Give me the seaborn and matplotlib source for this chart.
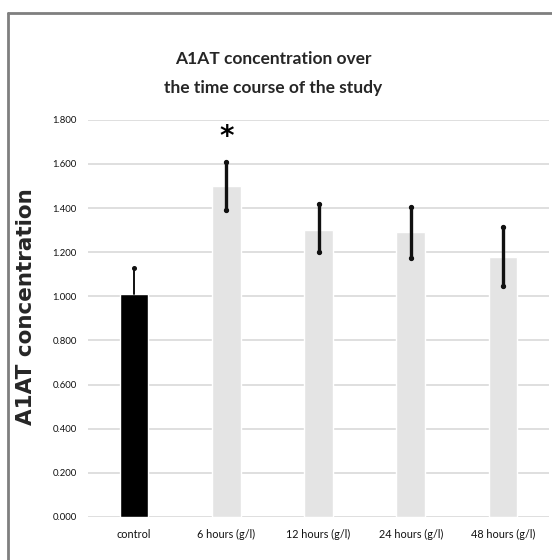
import numpy as np
import pandas as pd
import matplotlib
matplotlib.use("Agg")
import matplotlib.pyplot as plt
import seaborn as sns
from matplotlib.lines import Line2D

# values
categories = ["control", "6 hours (g/l)", "12 hours (g/l)", "24 hours (g/l)", "48 hours (g/l)"]
values = [1.01, 1.50, 1.30, 1.29, 1.18]
err_low = [1.01, 1.39, 1.20, 1.175, 1.047]
err_high = [1.13, 1.61, 1.417, 1.407, 1.316]
bar_colors = ["#000000", "#e4e4e4", "#e4e4e4", "#e4e4e4", "#e4e4e4"]
yticks = [0.0, 0.2, 0.4, 0.6, 0.8, 1.0, 1.2, 1.4, 1.6, 1.8]

df = pd.DataFrame({"group": categories, "conc": values})

sns.set_style("white")
fig = plt.figure(figsize=(5.52, 5.60), dpi=100)
ax = fig.add_axes([0.159, 0.077, 0.836, 0.709])

sns.barplot(data=df, x="group", y="conc", hue="group", palette=bar_colors,
            width=0.31, legend=False, ax=ax, saturation=1)

# error bars (drawn between low/high as in the original)
for i in range(len(categories)):
    if i == 0:
        ax.plot([i, i], [err_low[i], err_high[i]], color="#111111", lw=1.4)
        ax.plot([i], [err_high[i]], "o", color="#111111", ms=2.6)
    else:
        ax.plot([i, i], [err_low[i], err_high[i]], color="#111111", lw=2.4,
                marker="o", ms=2.8)

# significance star
ax.text(1, 1.72, "*", ha="center", va="center", fontsize=20,
        fontweight="bold", color="black")

ax.set_ylim(0, 1.8)
ax.set_xlim(-0.5, 4.5)
ax.set_yticks(yticks)
ax.set_yticklabels([f"{t:.3f}" for t in yticks], fontsize=6.8, family="Lato",
                   color="#111111")
ax.set_xticks(range(len(categories)))
ax.set_xticklabels(categories, fontsize=7.8, family="Lato", color="#111111")
ax.tick_params(length=0, pad=8)
ax.tick_params(axis="x", pad=9)
ax.yaxis.grid(True, color="#dcdcdc", lw=1.3)
ax.set_axisbelow(True)
for s in ax.spines.values():
    s.set_visible(False)
ax.set_xlabel("")
ax.set_ylabel("A1AT concentration", fontsize=15.5, fontweight="bold",
              family="DejaVu Sans")
ax.yaxis.set_label_coords(-0.113, 0.529)

fig.text(0.495, 0.868, "A1AT concentration over\nthe time course of the study",
         ha="center", va="center", fontsize=12.5, family="Lato",
         fontweight="bold", linespacing=2.0)

# outer frame (left and top edges)
fig.add_artist(Line2D([8/552, 8/552], [0, 1 - 13/560], color="#7f7f7f", lw=2))
fig.add_artist(Line2D([8/552, 1], [1 - 13/560, 1 - 13/560], color="#7f7f7f", lw=2))

fig.savefig("out.png", dpi=100)
